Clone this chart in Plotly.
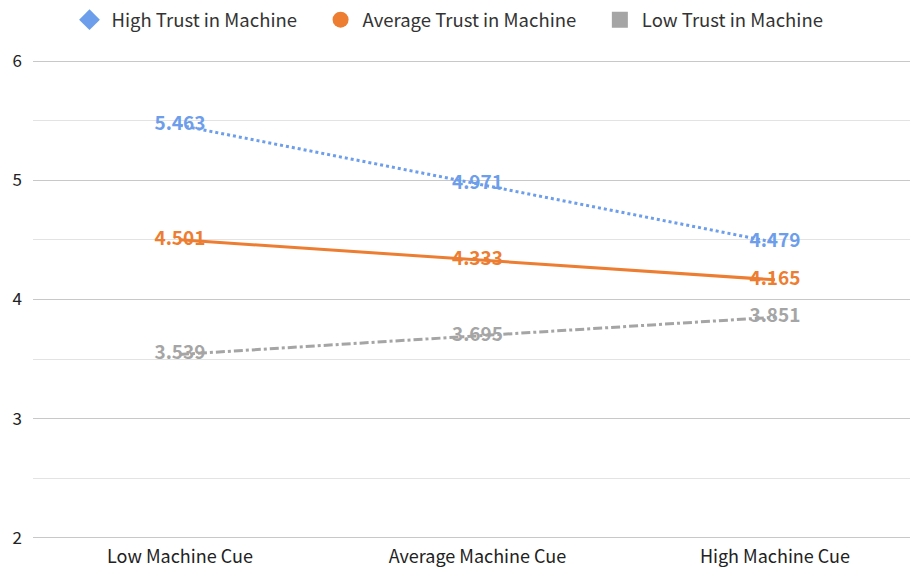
import plotly.graph_objects as go

categories = ["Low Machine Cue", "Average Machine Cue", "High Machine Cue"]
high_trust = [5.463, 4.971, 4.479]
avg_trust = [4.501, 4.333, 4.165]
low_trust = [3.539, 3.695, 3.851]
series_names = ["High Trust in Machine", "Average Trust in Machine", "Low Trust in Machine"]
y_ticks = [2, 3, 4, 5, 6]

colors = ["#6D9EEB", "#ED7D31", "#A5A5A5"]
dashes = ["dot", "solid", "dashdot"]
symbols = ["diamond", "circle", "square"]
FONT = "Noto Sans CJK KR"

xpos = list(range(len(categories)))
fig = go.Figure()
for vals, name, c, d in zip([high_trust, avg_trust, low_trust], series_names, colors, dashes):
    fig.add_trace(go.Scatter(
        x=xpos, y=vals, mode="lines+text", name=name, showlegend=False,
        line=dict(color=c, width=3, dash=d),
        text=[f"{v:.3f}" for v in vals], textposition="middle center",
        textfont=dict(color=c, size=19, family=FONT, weight="bold"),
        cliponaxis=False,
    ))
for name, c, s in zip(series_names, colors, symbols):
    fig.add_trace(go.Scatter(
        x=[None], y=[None], mode="markers", name=name + "    ",
        marker=dict(color=c, symbol=s, size=16),
    ))

fig.update_layout(
    width=912, height=567,
    margin=dict(l=33, r=2, t=59, b=27, autoexpand=False),
    paper_bgcolor="white", plot_bgcolor="white",
    font=dict(family=FONT, color="#222222", size=16),
    showlegend=True,
    legend=dict(orientation="h", x=0.5, xanchor="center", xref="container",
                y=0.998, yanchor="top", yref="container",
                font=dict(size=18.5, color="#333333"), itemwidth=34,
                traceorder="normal"),
    xaxis=dict(range=[-0.494, 2.454], tickvals=xpos, ticktext=categories,
               showgrid=False, zeroline=False, ticks="", showline=False,
               ticklabelstandoff=4,
               automargin=False, tickfont=dict(size=18, color="#222222")),
    yaxis=dict(range=[1.98, 6.02], tickvals=y_ticks, showgrid=True, gridcolor="#C8C8C8",
               gridwidth=1, zeroline=False, ticks="", ticklabelstandoff=10,
               automargin=False, tickfont=dict(size=17, color="#222222"),
               minor=dict(dtick=0.5, tick0=0, showgrid=True, gridcolor="#E3E3E3", gridwidth=1)),
)
fig.write_html("out.html", config={"displayModeBar": False},
               post_script="document.body.style.margin='0';document.body.style.padding='0';")
